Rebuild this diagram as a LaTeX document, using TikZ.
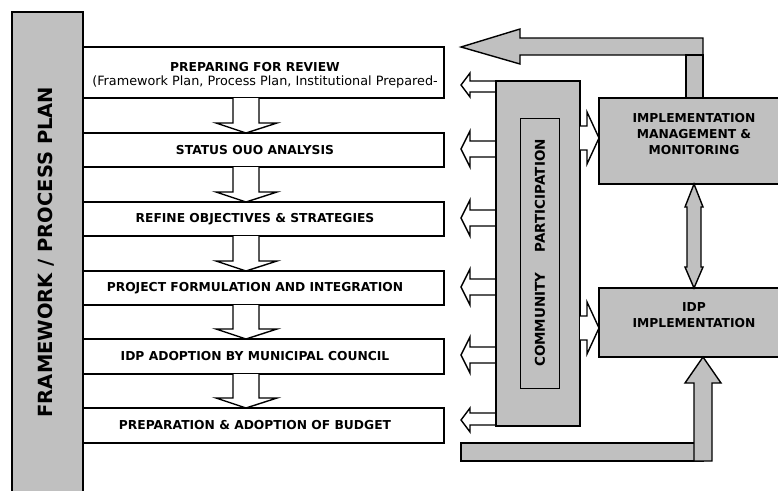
\documentclass[tikz,border=0pt]{standalone}
\usepackage{fontspec}
\setmainfont{DejaVu Sans}
\definecolor{panel}{RGB}{192,192,192}
\tikzset{
  outline/.style={draw,line width=1.4pt,line join=miter},
  stagebox/.style={outline,fill=white},
  graybox/.style={outline,fill=panel},
  hollow/.style={outline,fill=white},
  steplabel/.style={font=\fontsize{12.3}{15}\selectfont\bfseries,inner sep=0pt},
  sidelabel/.style={font=\fontsize{12.3}{16}\selectfont\bfseries,align=center,inner sep=0pt}
}

\begin{document}
\begin{tikzpicture}[x=1pt,y=-1pt]
\useasboundingbox (0,0) rectangle (778,490);

% framework bar on the left
\draw [graybox] (12,12) rectangle (83,495);
\node [rotate=90,font=\fontsize{19.5}{22}\selectfont\bfseries] (frame) at (46,252) {FRAMEWORK / PROCESS PLAN};

% the six stages
\draw [stagebox] (83,47) rectangle (444,98);
\draw [stagebox] (83,133) rectangle (444,167);
\draw [stagebox] (83,202) rectangle (444,236);
\draw [stagebox] (83,271) rectangle (444,305);
\draw [stagebox] (83,339) rectangle (444,374);
\draw [stagebox] (83,408) rectangle (444,443);

\node [steplabel] (prep) at (255,67) {PREPARING FOR REVIEW};
\node [font=\fontsize{12.8}{14}\selectfont,inner sep=0pt] (prepsub) at (265,82) {(Framework Plan, Process Plan, Institutional Prepared-};
\node [steplabel] (status) at (255,150) {STATUS OUO ANALYSIS};
\node [steplabel] (refine) at (255,219) {REFINE OBJECTIVES \& STRATEGIES};
\node [steplabel] (project) at (255,288) {PROJECT FORMULATION AND INTEGRATION};
\node [steplabel] (adopt) at (255,356) {IDP ADOPTION BY MUNICIPAL COUNCIL};
\node [steplabel] (budget) at (255,425) {PREPARATION \& ADOPTION OF BUDGET};

% hollow arrows down between the stages
\draw [hollow] (233,98) -- (233,123) -- (216,123) -- (246,133) -- (277,123) -- (259,123) -- (259,98);
\draw [hollow] (233,167) -- (233,192) -- (216,192) -- (246,202) -- (277,192) -- (259,192) -- (259,167);
\draw [hollow] (233,236) -- (233,261) -- (216,261) -- (246,271) -- (277,261) -- (259,261) -- (259,236);
\draw [hollow] (233,305) -- (233,329) -- (216,329) -- (246,339) -- (277,329) -- (259,329) -- (259,305);
\draw [hollow] (233,374) -- (233,398) -- (216,398) -- (246,408) -- (277,398) -- (259,398) -- (259,374);

% feedback arrow along the top
\draw [graybox] (703,38) -- (520,38) -- (520,29) -- (461,47) -- (520,64) -- (520,55) -- (703,55) -- cycle;
\draw [graybox] (686,55) rectangle (703,98);

% community participation
\draw [hollow] (496,81) -- (470,81) -- (470,73) -- (461,85) -- (470,97) -- (470,92) -- (496,92);
\draw [hollow] (496,141) -- (470,141) -- (470,131) -- (461,149) -- (470,167) -- (470,157) -- (496,157);
\draw [hollow] (496,210) -- (470,210) -- (470,200) -- (461,218) -- (470,236) -- (470,226) -- (496,226);
\draw [hollow] (496,279) -- (470,279) -- (470,269) -- (461,287) -- (470,305) -- (470,295) -- (496,295);
\draw [hollow] (496,347) -- (470,347) -- (470,337) -- (461,355) -- (470,373) -- (470,363) -- (496,363);
\draw [hollow] (496,413) -- (470,413) -- (470,408) -- (461,420) -- (470,432) -- (470,425) -- (496,425);
\draw [graybox] (496,81) rectangle (580,426);
\draw [line width=0.8pt] (520,118) rectangle (559,388);
\node [rotate=90,font=\fontsize{13.5}{15}\selectfont\bfseries,inner sep=0pt] (community) at (540,253) {COMMUNITY\hspace{20pt}PARTICIPATION};

% arrows into the right hand boxes
\draw [hollow] (580,126) -- (587,126) -- (587,112) -- (599,138) -- (587,164) -- (587,150) -- (580,150);
\draw [hollow] (580,316) -- (587,316) -- (587,302) -- (599,328) -- (587,354) -- (587,340) -- (580,340);

\draw [graybox] (599,98) rectangle (780,184);
\node [sidelabel] (imm) at (694,134) {IMPLEMENTATION\\MANAGEMENT \&\\MONITORING};
\draw [graybox] (599,288) rectangle (780,357);
\node [sidelabel] (idp) at (694,315) {IDP\\IMPLEMENTATION};

% two way arrow between them
\draw [graybox] (694,184) -- (703,207) -- (701,207) -- (701,267) -- (703,267) -- (694,288) -- (685,267) -- (687,267) -- (687,207) -- (685,207) -- cycle;

% feedback from the budget back up
\draw [graybox] (461,443) rectangle (703,461);
\draw [graybox] (694,461) -- (694,383) -- (685,383) -- (703,357) -- (721,383) -- (712,383) -- (712,461) -- cycle;
\end{tikzpicture}
\end{document}
